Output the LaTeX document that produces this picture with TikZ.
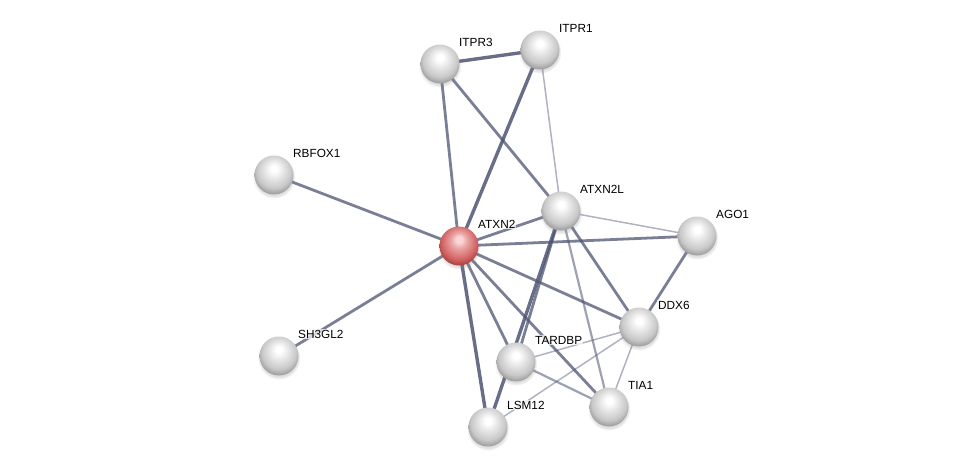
\documentclass[tikz,border=0pt]{standalone}
\usepackage{fontspec}
\setmainfont{Liberation Sans}
\usetikzlibrary{shadows}
\definecolor{gA}{RGB}{255,255,255}
\definecolor{gB}{RGB}{236,236,236}
\definecolor{gC}{RGB}{200,200,200}
\definecolor{gD}{RGB}{140,140,140}
\definecolor{rA}{RGB}{250,215,215}
\definecolor{rB}{RGB}{235,165,165}
\definecolor{rC}{RGB}{212,100,100}
\definecolor{rD}{RGB}{150,50,50}
\definecolor{edgec}{RGB}{78,84,115}
\pgfdeclareradialshading{gball}{\pgfpoint{0bp}{9bp}}{color(0bp)=(gA); color(4bp)=(gA); color(10bp)=(gB); color(22bp)=(gC); color(31bp)=(gD); color(50bp)=(gD)}
\pgfdeclareradialshading{rball}{\pgfpoint{0bp}{9bp}}{color(0bp)=(rA); color(4bp)=(rA); color(10bp)=(rB); color(22bp)=(rC); color(31bp)=(rD); color(50bp)=(rD)}
\begin{document}
\begin{tikzpicture}[x=1pt,y=-1pt,
  prot/.style={circle, minimum size=39pt, inner sep=0pt, shading=gball,
    circular drop shadow={shadow xshift=0pt, shadow yshift=-2pt, opacity=0.25}},
  qprot/.style={prot, shading=rball},
  lab/.style={font=\fontsize{11.8}{13}\selectfont, anchor=base west, inner sep=1pt,
    fill=white, fill opacity=0.7, text opacity=1},
  es/.style={draw=edgec, line width=3.4pt, opacity=0.85},
  em/.style={draw=edgec, line width=2.8pt, opacity=0.75},
  el/.style={draw=edgec, line width=1.5pt, opacity=0.45},
  elm/.style={draw=edgec, line width=2.2pt, opacity=0.55}]
\useasboundingbox (0,0) rectangle (975,472);
\coordinate (pITPR3) at (440,64);
\coordinate (pITPR1) at (540,50);
\coordinate (pRBFOX1) at (274,175);
\coordinate (pATXN2L) at (561,211);
\coordinate (pAGO1) at (697,236);
\coordinate (pATXN2) at (459,246);
\coordinate (pDDX6) at (639,327);
\coordinate (pSH3GL2) at (279,356);
\coordinate (pTARDBP) at (516,362);
\coordinate (pTIA1) at (609,407);
\coordinate (pLSM12) at (488,427);
% edges
\draw[es] (pITPR3) -- (pITPR1);
\draw[es] (pATXN2) -- (pITPR1);
\draw[em] (pATXN2) -- (pITPR3);
\draw[em] (pITPR3) -- (pATXN2L);
\draw[el] (pITPR1) -- (pATXN2L);
\draw[em] (pATXN2) -- (pRBFOX1);
\draw[em] (pATXN2) -- (pSH3GL2);
\draw[em] (pATXN2) -- (pATXN2L);
\draw[em] (pATXN2) -- (pAGO1);
\draw[el] (pATXN2L) -- (pAGO1);
\draw[em] (pAGO1) -- (pDDX6);
\draw[em] (pATXN2) -- (pDDX6);
\draw[em] (pATXN2) -- (pTARDBP);
\draw[em] (pATXN2) -- (pTIA1);
\draw[es] (pATXN2) -- (pLSM12);
\draw[em] (pATXN2L) -- (pDDX6);
\draw[es] (pATXN2L) -- (pLSM12);
\draw[em] (pATXN2L) -- (pTARDBP);
\draw[elm] (pATXN2L) -- (pTIA1);
\draw[el] (pDDX6) -- (pTARDBP);
\draw[el] (pDDX6) -- (pLSM12);
\draw[el] (pDDX6) -- (pTIA1);
\draw[elm] (pTARDBP) -- (pTIA1);
% nodes
\node[prot] (ITPR3) at (pITPR3) {};
\node[prot] (ITPR1) at (pITPR1) {};
\node[prot] (RBFOX1) at (pRBFOX1) {};
\node[prot] (ATXN2L) at (pATXN2L) {};
\node[prot] (AGO1) at (pAGO1) {};
\node[qprot] (ATXN2) at (pATXN2) {};
\node[prot] (DDX6) at (pDDX6) {};
\node[prot] (SH3GL2) at (pSH3GL2) {};
\node[prot] (TARDBP) at (pTARDBP) {};
\node[prot] (TIA1) at (pTIA1) {};
\node[prot] (LSM12) at (pLSM12) {};
% labels
\foreach \n/\t in {ITPR3/ITPR3, ITPR1/ITPR1, RBFOX1/RBFOX1, ATXN2L/ATXN2L, AGO1/AGO1, ATXN2/ATXN2, DDX6/DDX6, SH3GL2/SH3GL2, TARDBP/TARDBP, TIA1/TIA1, LSM12/LSM12}
  \node[lab] (l\n) at ([xshift=18pt,yshift=18pt]\n.center) {\t};
\end{tikzpicture}
\end{document}
